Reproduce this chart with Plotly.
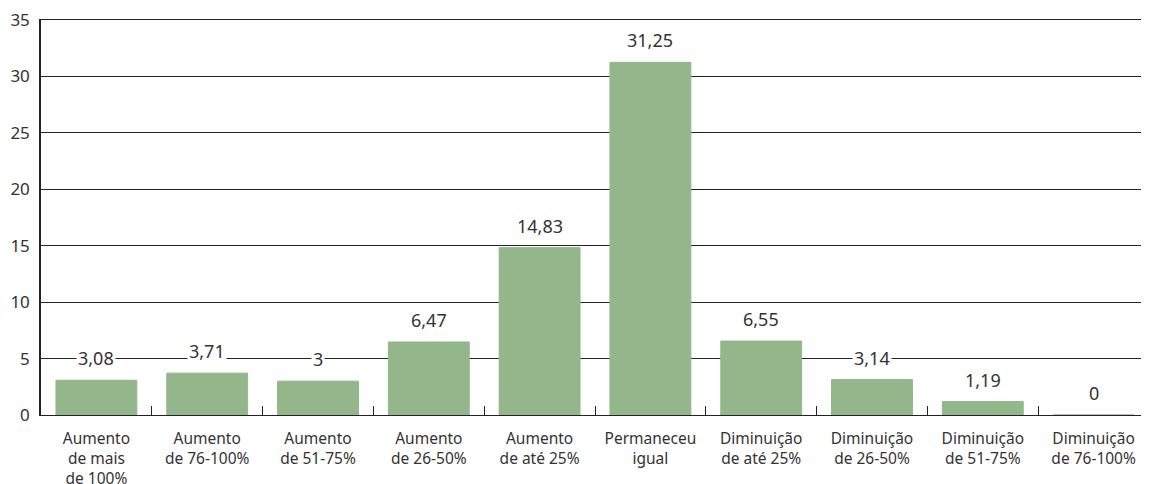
import plotly.graph_objects as go

# categories and values
categories = [
    "Aumento<br>de mais<br>de 100%",
    "Aumento<br>de 76-100%",
    "Aumento<br>de 51-75%",
    "Aumento<br>de 26-50%",
    "Aumento<br>de até 25%",
    "Permaneceu<br>igual",
    "Diminuição<br>de até 25%",
    "Diminuição<br>de 26-50%",
    "Diminuição<br>de 51-75%",
    "Diminuição<br>de 76-100%",
]
values = [3.08, 3.71, 3, 6.47, 14.83, 31.25, 6.55, 3.14, 1.19, 0]
value_labels = ["3,08", "3,71", "3", "6,47", "14,83", "31,25", "6,55", "3,14", "1,19", "0"]

y_ticks = [0, 5, 10, 15, 20, 25, 30, 35]

bar_color = "#94b68b"

fig = go.Figure()
fig.add_trace(go.Bar(
    x=categories,
    y=values,
    marker=dict(color=bar_color, line=dict(color=bar_color, width=1)),
    hoverinfo="skip",
))

# value labels sit above the bars with a white box, so gridlines break around them
for cat, val, lab in zip(categories, values, value_labels):
    fig.add_annotation(
        x=cat, y=val, text=lab, showarrow=False,
        yanchor="bottom", yshift=8,
        bgcolor="white", borderpad=1,
        font=dict(family="Noto Sans", size=18, color="#333333"),
    )

# page body has an 8px margin, so the figure is shifted by that much
fig.update_layout(
    width=1141, height=476,
    margin=dict(l=33, r=0, t=12, b=69),
    paper_bgcolor="white", plot_bgcolor="white",
    bargap=0.27,
    showlegend=False,
    font=dict(family="Noto Sans", color="#333333"),
)

fig.update_xaxes(
    automargin=False,
    showline=True, mirror=True, linecolor="#222222", linewidth=1.2,
    ticks="inside", tickson="boundaries", ticklen=9, tickcolor="#222222",
    tickfont=dict(family="Noto Sans", size=15.5, color="#333333"),
    ticklabelstandoff=9,
    layer="below traces",
)
fig.update_yaxes(
    automargin=False,
    range=[0, 35], tickvals=y_ticks,
    showgrid=True, gridcolor="#222222", gridwidth=1,
    showline=True, linecolor="#222222", linewidth=1.5,
    zeroline=False,
    tickfont=dict(family="Noto Sans", size=17, color="#333333"),
    ticks="", ticklabelstandoff=6, ticklabeloverflow="allow",
)

fig.write_html("out.html")
